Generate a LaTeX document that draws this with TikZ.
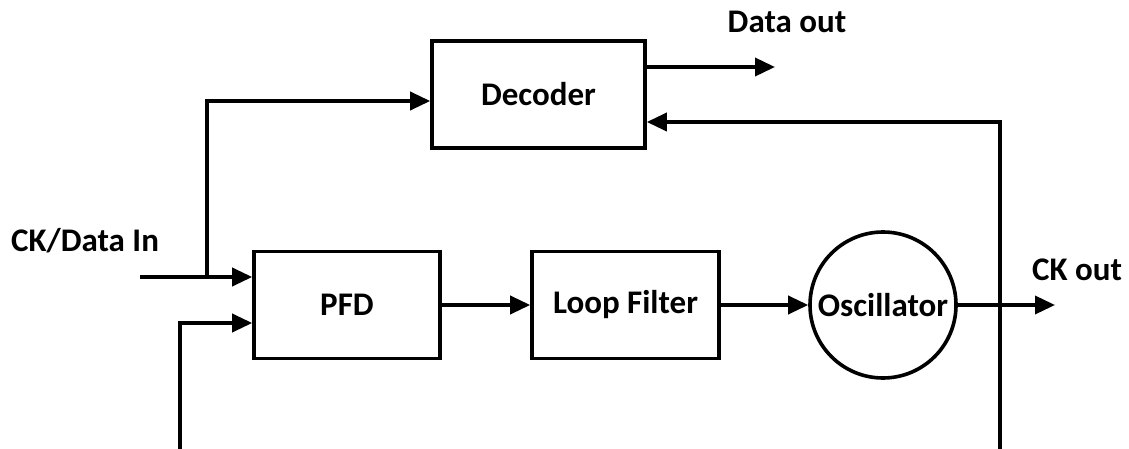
\documentclass[tikz,border=0pt]{standalone}
\usepackage{fontspec}
\setmainfont{Carlito}
\usetikzlibrary{arrows.meta,calc}
\begin{document}
\begin{tikzpicture}[x=1pt,y=-1pt,
  wire/.style={line width=3.6pt},
  arr/.style={wire,-{Triangle[length=20pt,width=18pt]}},
  blk/.style={draw,line width=3.6pt,rectangle,inner sep=0pt,align=center},
  lbl/.style={inner sep=0pt},
  every node/.append style={font=\fontsize{33}{39}\selectfont\bfseries}]
\useasboundingbox (0,0) rectangle (1129,449);
\node[blk,minimum width=213pt,minimum height=107pt] (dec) at (538.5,94.5) {Decoder};
\node[blk,minimum width=186pt,minimum height=107pt] (pfd) at (347,305) {PFD};
\node[blk,minimum width=187pt,minimum height=107pt] (lf) at (625.5,305) {Loop Filter};
\node[draw,line width=3.6pt,circle,minimum size=146pt,inner sep=0pt] (osc) at (883,305) {Oscillator};
\node[lbl] (lin) at (85,241) {CK/Data In};
\node[lbl] (ldo) at (787,22) {Data out};
\node[lbl] (lck) at (1077,270) {CK out};
\coordinate (in1) at (140,277);
\coordinate (br) at (207,277);
\coordinate (decin) at (0,101);
\coordinate (dout) at (775,67);
\coordinate (fb) at (1000,449);
\coordinate (decfb) at (0,122);
\coordinate (in2) at (180,449);
\coordinate (pin2) at (0,323);
\coordinate (ckout) at (1055,305);
\draw[arr] (in1) -- (in1 -| pfd.west);
\draw[arr,line join=miter] (br) |- (dec.west |- decin);
\draw[arr] (dec.east |- dout) -- (dout);
\draw[arr,line join=miter] (fb) |- (dec.east |- decfb);
\draw[arr,line join=miter] (in2) |- (pfd.west |- pin2);
\draw[arr] (pfd.east) -- (lf.west);
\draw[arr] (lf.east) -- (osc.west);
\draw[arr] (osc.east) -- (ckout);
\end{tikzpicture}
\end{document}
